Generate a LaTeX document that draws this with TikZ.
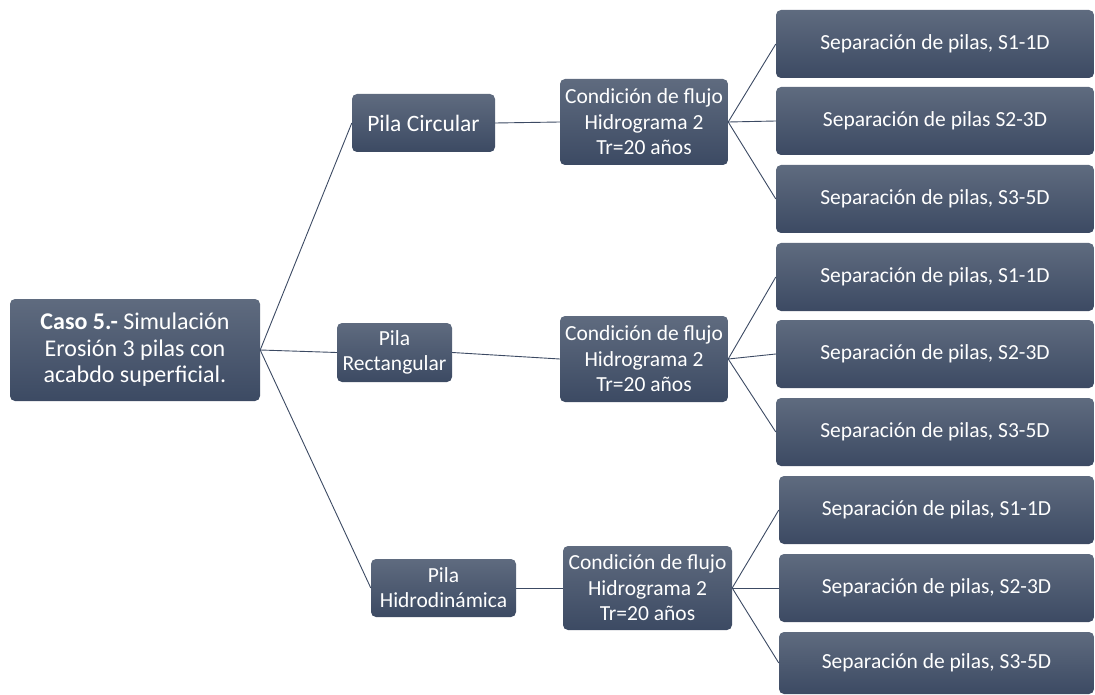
\documentclass[tikz,border=0pt]{standalone}
\usepackage{fontspec}
\setmainfont{Carlito}
\definecolor{boxtop}{HTML}{5F6B7F}
\definecolor{boxbot}{HTML}{3C4A63}
\definecolor{wire}{HTML}{3C4A63}
\begin{document}
\begin{tikzpicture}[x=1pt,y=-1pt,
  box/.style={rectangle, rounded corners=5pt, top color=boxtop, bottom color=boxbot,
    text=white, align=center, inner sep=2pt,
    font=\fontsize{21.5}{25.5}\selectfont},
  leaf/.style={box, minimum width=318pt, minimum height=68pt},
  pier/.style={box, font=\fontsize{23.5}{26.5}\selectfont},
  wire/.style={draw=wire, line width=0.9pt}]
\useasboundingbox (0,0) rectangle (1095,695);

% root
\node[box, minimum width=250pt, minimum height=102pt,
  font=\fontsize{24}{26.5}\selectfont] (root) at (135,350)
  {\textbf{Caso 5.-} Simulación\\Erosión 3 pilas con\\acabdo superficial.};

% pier shapes
\node[pier, minimum width=143pt, minimum height=58pt] (pc) at (423.5,123) {Pila Circular};
\node[pier, minimum width=115pt, minimum height=59pt, font=\fontsize{21.5}{25}\selectfont] (pr) at (394.5,352.5) {Pila\\Rectangular};
\node[pier, minimum width=145pt, minimum height=58pt, font=\fontsize{21.5}{25}\selectfont] (ph) at (443.5,588) {Pila\\Hidrodinámica};

% flow conditions
\node[box, minimum width=168pt, minimum height=86pt] (c1) at (644,122)
  {Condición de flujo\\Hidrograma 2\\Tr=20 años};
\node[box, minimum width=168pt, minimum height=86pt] (c2) at (644,359)
  {Condición de flujo\\Hidrograma 2\\Tr=20 años};
\node[box, minimum width=169pt, minimum height=84pt] (c3) at (647.5,588)
  {Condición de flujo\\Hidrograma 2\\Tr=20 años};

% pier spacings
\node[leaf] (a1) at (935,44) {Separación de pilas, S1-1D};
\node[leaf] (a2) at (935,121) {Separación de pilas S2-3D};
\node[leaf] (a3) at (935,199) {Separación de pilas, S3-5D};

\node[leaf] (b1) at (935,277) {Separación de pilas, S1-1D};
\node[leaf] (b2) at (935,354) {Separación de pilas, S2-3D};
\node[leaf] (b3) at (935,432) {Separación de pilas, S3-5D};

\node[leaf, minimum width=315pt] (d1) at (936.5,510) {Separación de pilas, S1-1D};
\node[leaf, minimum width=315pt] (d2) at (936.5,588) {Separación de pilas, S2-3D};
\node[leaf, minimum width=315pt, minimum height=62pt] (d3) at (936.5,663) {Separación de pilas, S3-5D};

% connectors
\draw[wire] (root.east) -- (pc.west);
\draw[wire] (root.east) -- (pr.west);
\draw[wire] (root.east) -- (ph.west);
\draw[wire] (pc.east) -- (c1.west);
\draw[wire] (pr.east) -- (c2.west);
\draw[wire] (ph.east) -- (c3.west);
\foreach \s in {a1,a2,a3} \draw[wire] (c1.east) -- (\s.west);
\foreach \s in {b1,b2,b3} \draw[wire] (c2.east) -- (\s.west);
\foreach \s in {d1,d2,d3} \draw[wire] (c3.east) -- (\s.west);
\end{tikzpicture}
\end{document}
